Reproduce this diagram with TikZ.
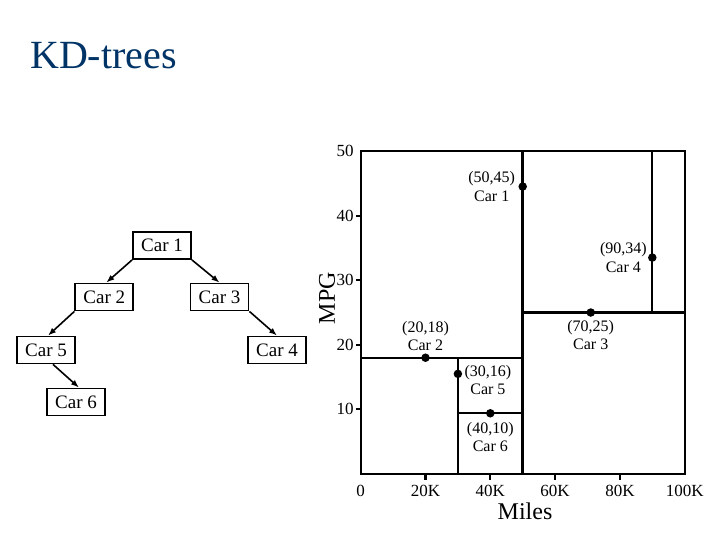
\documentclass[tikz,border=0pt]{standalone}
\usepackage{fontspec}
\setmainfont{Liberation Serif}
\usetikzlibrary{positioning,arrows.meta}
\definecolor{titleblue}{RGB}{0,51,102}

\begin{document}
\begin{tikzpicture}[
  x=1pt, y=-1pt,
  every node/.style={align=center},
  carbox/.style={draw, line width=1.8pt, minimum width=58pt, minimum height=27pt,
                 inner sep=2pt, font=\fontsize{19}{21}\selectfont},
  arrow/.style={-{Latex[length=8pt,width=6pt]}, line width=1.6pt},
  split/.style={line width=2.1pt},
  dot/.style={circle, fill, inner sep=0pt, minimum size=8.5pt},
  ptlabel/.style={inner sep=1pt, font=\fontsize{16}{18.5}\selectfont},
  ticklabel/.style={inner sep=0pt, font=\fontsize{17}{19}\selectfont},
  axislabel/.style={inner sep=0pt, font=\fontsize{24}{26}\selectfont},
]
\useasboundingbox (0,0) rectangle (720,540);

% ===== title =====
\node[anchor=base west, inner sep=0pt, text=titleblue, font=\fontsize{40}{44}\selectfont]
  (title) at (30,69) {KD-trees};

% ===== LEFT: tree =====
\node[carbox] (c1) at (162,245.5) {Car 1};
\node[carbox] (c2) at (104.3,297) {Car 2};
\node[carbox] (c3) at (219.5,297) {Car 3};
\node[carbox] (c5) at (46,350) {Car 5};
\node[carbox] (c4) at (277,350) {Car 4};
\node[carbox] (c6) at (76,402) {Car 6};

\draw[arrow] (c1.south west) -- ([xshift=2pt]c2.north);
\draw[arrow] (c1.south east) -- (c3.north);
\draw[arrow] (c2.south west) -- ([xshift=2pt]c5.north);
\draw[arrow] (c3.south east) -- (c4.north);
\draw[arrow] ([xshift=7pt]c5.south) -- ([xshift=3pt]c6.north);

% ===== RIGHT: partition of the plane =====
\node[axislabel, rotate=90] (mpg) at (327,298) {MPG};
\node[axislabel] (miles) at (525,511) {Miles};

\begin{scope}[shift={(360.7,474)}, x=3.24pt, y=6.46pt]
  \draw[split] (0,0) rectangle (100,50);
  \draw[split, line width=3pt] (50,0) -- (50,50);
  \draw[split] (0,18) -- (50,18);
  \draw[split] (30,0) -- (30,18);
  \draw[split] (30,9.4) -- (50,9.4);
  \draw[split] (50,25) -- (100,25);
  \draw[split] (90,25) -- (90,50);

  % ticks
  \foreach \v in {10,20,30,40}
    \draw[split] (0,\v) -- ++(-5pt,0);
  \foreach \v in {10,20,30,40,50}
    \node[ticklabel, anchor=east] at ([xshift=-7pt]0,\v) {\v};
  \foreach \v in {20,40,60,80}
    \draw[split] (\v,0) -- ++(0,-6pt);
  \foreach \v/\t in {0/0,20/20K,40/40K,60/60K,80/80K,100/100K}
    \node[ticklabel] at ([yshift=-17pt]\v,0) {\t};

  % points
  \node[dot] (p1) at (50,44.5) {};
  \node[dot] (p2) at (20,18) {};
  \node[dot] (p3) at (71,25) {};
  \node[dot] (p4) at (90,33.5) {};
  \node[dot] (p5) at (30,15.5) {};
  \node[dot] (p6) at (40,9.4) {};

  \node[ptlabel, left=2pt of p1] (l1) {(50,45)\\Car 1};
  \node[ptlabel, above=1pt of p2] (l2) {(20,18)\\Car 2};
  \node[ptlabel, below=2pt of p3] (l3) {(70,25)\\Car 3};
  \node[ptlabel, left=0pt of p4] (l4) {(90,34)\\Car 4};
  \node[ptlabel, right=1pt of p5, yshift=-6pt] (l5) {(30,16)\\Car 5};
  \node[ptlabel, below=3pt of p6] (l6) {(40,10)\\Car 6};
\end{scope}
\end{tikzpicture}
\end{document}
